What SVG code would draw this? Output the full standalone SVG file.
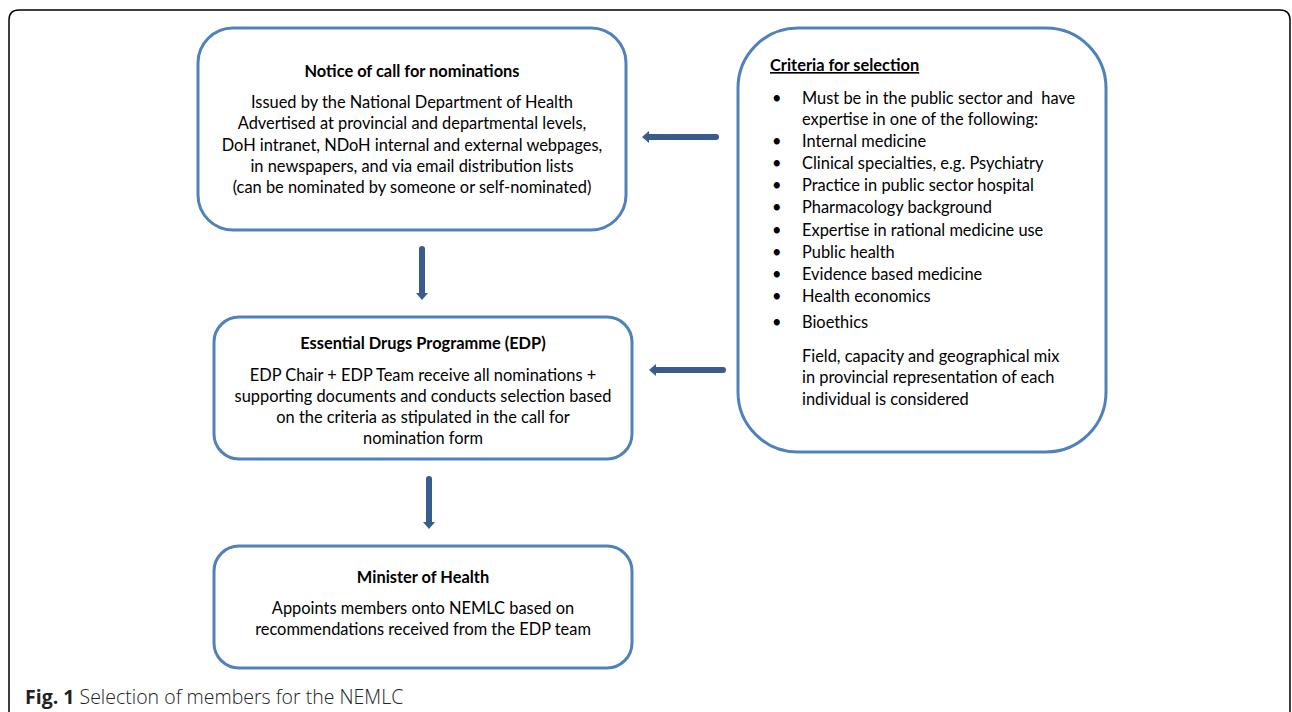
<svg xmlns="http://www.w3.org/2000/svg" width="1292" height="712" viewBox="0 0 1292 712">
<style>
.box{fill:#fff;stroke:#4f81bd;stroke-width:3}
.t{font-family:Lato,"Open Sans",sans-serif;font-size:16.4px;fill:#000}
.b{font-weight:bold}
.c{text-anchor:middle}
.arr{stroke:#385d8a;stroke-width:6;fill:none;stroke-linecap:round}
.cap{font-family:"Open Sans","Noto Sans",sans-serif;font-size:19.5px;fill:#222}
</style>
<defs>
<marker id="ah" markerWidth="8" markerHeight="14" refX="1" refY="7" orient="auto" markerUnits="userSpaceOnUse">
<path d="M0,1 L7,7 L0,13 z" fill="#385d8a"/>
</marker>
</defs>
<rect x="0" y="0" width="1292" height="712" fill="#fff"/>
<path d="M9,730 L9,20 Q9,10 19,10 L1280,10 Q1290,10 1290,20 L1290,730" fill="none" stroke="#000" stroke-width="1.5"/>
<g id="connectors">
<line class="arr" x1="716" y1="137" x2="648" y2="137" marker-end="url(#ah)"/>
<line class="arr" x1="723" y1="370" x2="655" y2="370" marker-end="url(#ah)"/>
<line class="arr" x1="422" y1="249" x2="422" y2="294" marker-end="url(#ah)"/>
<line class="arr" x1="429" y1="479" x2="429" y2="523" marker-end="url(#ah)"/>
</g>
<g id="notice">
<rect class="box" x="198" y="28" width="428" height="202" rx="35"/>
<text class="t b c" x="412" y="77">Notice of call for nominations</text>
<text class="t c" x="412" y="108">Issued by the National Department of Health</text>
<text class="t c" x="412" y="129">Advertised at provincial and departmental levels,</text>
<text class="t c" x="412" y="151">DoH intranet, NDoH internal and external webpages,</text>
<text class="t c" x="412" y="172">in newspapers, and via email distribution lists</text>
<text class="t c" x="412" y="193">(can be nominated by someone or self-nominated)</text>
</g>
<g id="criteria">
<rect class="box" x="738" y="28" width="368" height="424" rx="60"/>
<text class="t b" x="770" y="71" text-decoration="underline">Criteria for selection</text>
<g class="t">
<text x="772" y="104">•</text><text x="802" y="104" xml:space="preserve">Must be in the public sector and  have</text>
<text x="802" y="125">expertise in one of the following:</text>
<text x="772" y="147">•</text><text x="802" y="147">Internal medicine</text>
<text x="772" y="169">•</text><text x="802" y="169">Clinical specialties, e.g. Psychiatry</text>
<text x="772" y="191">•</text><text x="802" y="191">Practice in public sector hospital</text>
<text x="772" y="213">•</text><text x="802" y="213">Pharmacology background</text>
<text x="772" y="236">•</text><text x="802" y="236">Expertise in rational medicine use</text>
<text x="772" y="258">•</text><text x="802" y="258">Public health</text>
<text x="772" y="280">•</text><text x="802" y="280">Evidence based medicine</text>
<text x="772" y="302">•</text><text x="802" y="302">Health economics</text>
<text x="772" y="328">•</text><text x="802" y="328">Bioethics</text>
<text x="802" y="362">Field, capacity and geographical mix</text>
<text x="802" y="383">in provincial representation of each</text>
<text x="802" y="405">individual is considered</text>
</g>
</g>
<g id="edp">
<rect class="box" x="214" y="317" width="418" height="142" rx="25"/>
<text class="t b c" x="423" y="349">Essential Drugs Programme (EDP)</text>
<text class="t c" x="423" y="381">EDP Chair + EDP Team receive all nominations +</text>
<text class="t c" x="423" y="402">supporting documents and conducts selection based</text>
<text class="t c" x="423" y="423">on the criteria as stipulated in the call for</text>
<text class="t c" x="423" y="444">nomination form</text>
</g>
<g id="minister">
<rect class="box" x="214" y="546" width="418" height="122" rx="25"/>
<text class="t b c" x="423" y="583">Minister of Health</text>
<text class="t c" x="423" y="614">Appoints members onto NEMLC based on</text>
<text class="t c" x="423" y="635">recommendations received from the EDP team</text>
</g>
<text class="cap" x="25" y="704"><tspan font-weight="bold">Fig. 1</tspan><tspan font-weight="300"> Selection of members for the NEMLC</tspan></text>
</svg>
